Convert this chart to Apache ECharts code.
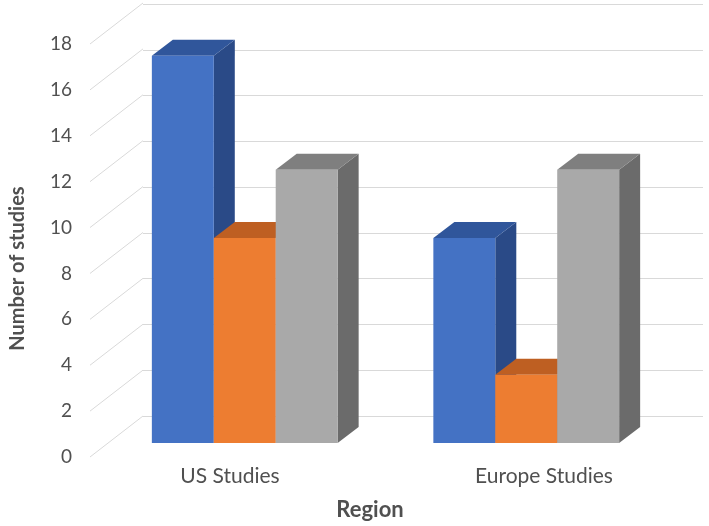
<html>
<head>
    <meta http-equiv="content-type" content="text/html; charset=utf-8">
    <title>Number of studies by region</title>
    <script src="https://cdn.jsdelivr.net/npm/echarts@6/dist/echarts.min.js"></script>
    <style>
        html, body { margin: 0; padding: 0; background: #fff; }
    </style>
</head>

<body>
    <div id='echart' style="width:709px; height:526px;"></div>

    <script type="text/javascript">
        var categories = ['US Studies', 'Europe Studies'];
        var series1 = [17, 9];
        var series2 = [9, 3];
        var series3 = [12, 12];
        var yTicks = [0, 2, 4, 6, 8, 10, 12, 14, 16, 18];

        var textColor = '#505050';
        var fontFamily = 'Lato, "Open Sans", sans-serif';
        // depth offsets for the fake 3d look
        var wallDx = 53, wallDy = 41;
        var barDx = 21, barDy = 16;

        var faces = [
            { front: '#4472C4', top: '#30569B', side: '#2A4A87' },
            { front: '#ED7D31', top: '#BE5F22', side: '#A9521B' },
            { front: '#A9A9A9', top: '#7F7F7F', side: '#6B6B6B' }
        ];

        function barItem(k) {
            return function(params, api) {
                var cat = api.value(0), val = api.value(1);
                var base = api.coord([cat, 0]);
                var top = api.coord([cat, val]);
                var w = api.size([1, 0])[0] * 0.22;
                var x0 = base[0] - 1.5 * w + k * w;
                var x1 = x0 + w;
                var c = faces[k];
                return {
                    type: 'group',
                    children: [{
                        type: 'polygon',
                        shape: { points: [[x1, top[1]], [x1 + barDx, top[1] - barDy], [x1 + barDx, base[1] - barDy], [x1, base[1]]] },
                        style: { fill: c.side }
                    }, {
                        type: 'polygon',
                        shape: { points: [[x0, top[1]], [x1, top[1]], [x1 + barDx, top[1] - barDy], [x0 + barDx, top[1] - barDy]] },
                        style: { fill: c.top }
                    }, {
                        type: 'rect',
                        shape: { x: x0, y: top[1], width: w, height: base[1] - top[1] },
                        style: { fill: c.front }
                    }]
                };
            };
        }

        function pairs(arr) {
            return arr.map(function(v, i) { return [i, v]; });
        }

        var chart = echarts.init(document.getElementById("echart"));
        var option = {
            animation: false,
            grid: [
                // back wall
                { left: 143, right: 6, top: 4, bottom: 110 },
                // front plane (tick labels, axis names)
                { left: 90, right: 59, top: 44, bottom: 69 },
                // category labels
                { left: 73, right: 8, top: 44, bottom: 69 },
                // bar front faces
                { left: 104, right: 42, top: 33, bottom: 83 }
            ],
            xAxis: [
                { gridIndex: 0, type: 'value', min: 0, max: 1, show: false },
                {
                    gridIndex: 1, type: 'value', min: 0, max: 1,
                    axisLine: { show: false }, axisTick: { show: false },
                    axisLabel: { show: false }, splitLine: { show: false },
                    name: 'Region', nameLocation: 'middle', nameGap: 42,
                    nameTextStyle: { color: textColor, fontSize: 22, fontWeight: 'bold', fontFamily: fontFamily }
                },
                {
                    gridIndex: 2, type: 'category', data: categories,
                    axisLine: { show: false }, axisTick: { show: false },
                    axisLabel: { color: textColor, fontSize: 21, fontFamily: fontFamily, margin: 9 }
                },
                { gridIndex: 3, type: 'category', data: categories, show: false }
            ],
            yAxis: [
                {
                    gridIndex: 0, type: 'value', min: 0, max: 18, interval: 2,
                    axisLine: { show: false }, axisTick: { show: false }, axisLabel: { show: false },
                    splitLine: { lineStyle: { color: '#D9D9D9', width: 1 } }
                },
                {
                    gridIndex: 1, type: 'value', min: 0, max: 18, interval: 2,
                    axisLine: { show: false }, axisTick: { show: false },
                    splitLine: { show: false },
                    axisLabel: { color: textColor, fontSize: 19, fontFamily: fontFamily, margin: 18 },
                    name: 'Number of studies', nameLocation: 'middle', nameGap: 62,
                    nameTextStyle: {
                        color: textColor, fontSize: 20, fontWeight: 'bold', fontFamily: fontFamily,
                        padding: [0, 36, 0, 0]
                    }
                },
                { gridIndex: 2, type: 'value', min: 0, max: 18, show: false },
                { gridIndex: 3, type: 'value', min: 0, max: 18, show: false }
            ],
            series: [{
                type: 'custom',
                xAxisIndex: 1, yAxisIndex: 1,
                silent: true,
                data: yTicks.map(function(v) { return [0, v]; }),
                renderItem: function(params, api) {
                    var p = api.coord([0, api.value(1)]);
                    var x = params.coordSys.x;
                    return {
                        type: 'line',
                        shape: { x1: x, y1: p[1], x2: x + wallDx, y2: p[1] - wallDy },
                        style: { stroke: '#D9D9D9', lineWidth: 1 }
                    };
                }
            }, {
                type: 'custom', xAxisIndex: 3, yAxisIndex: 3,
                data: pairs(series1), renderItem: barItem(0)
            }, {
                type: 'custom', xAxisIndex: 3, yAxisIndex: 3,
                data: pairs(series2), renderItem: barItem(1)
            }, {
                type: 'custom', xAxisIndex: 3, yAxisIndex: 3,
                data: pairs(series3), renderItem: barItem(2)
            }]
        };
        chart.setOption(option);
    </script>
</body>
</html>
